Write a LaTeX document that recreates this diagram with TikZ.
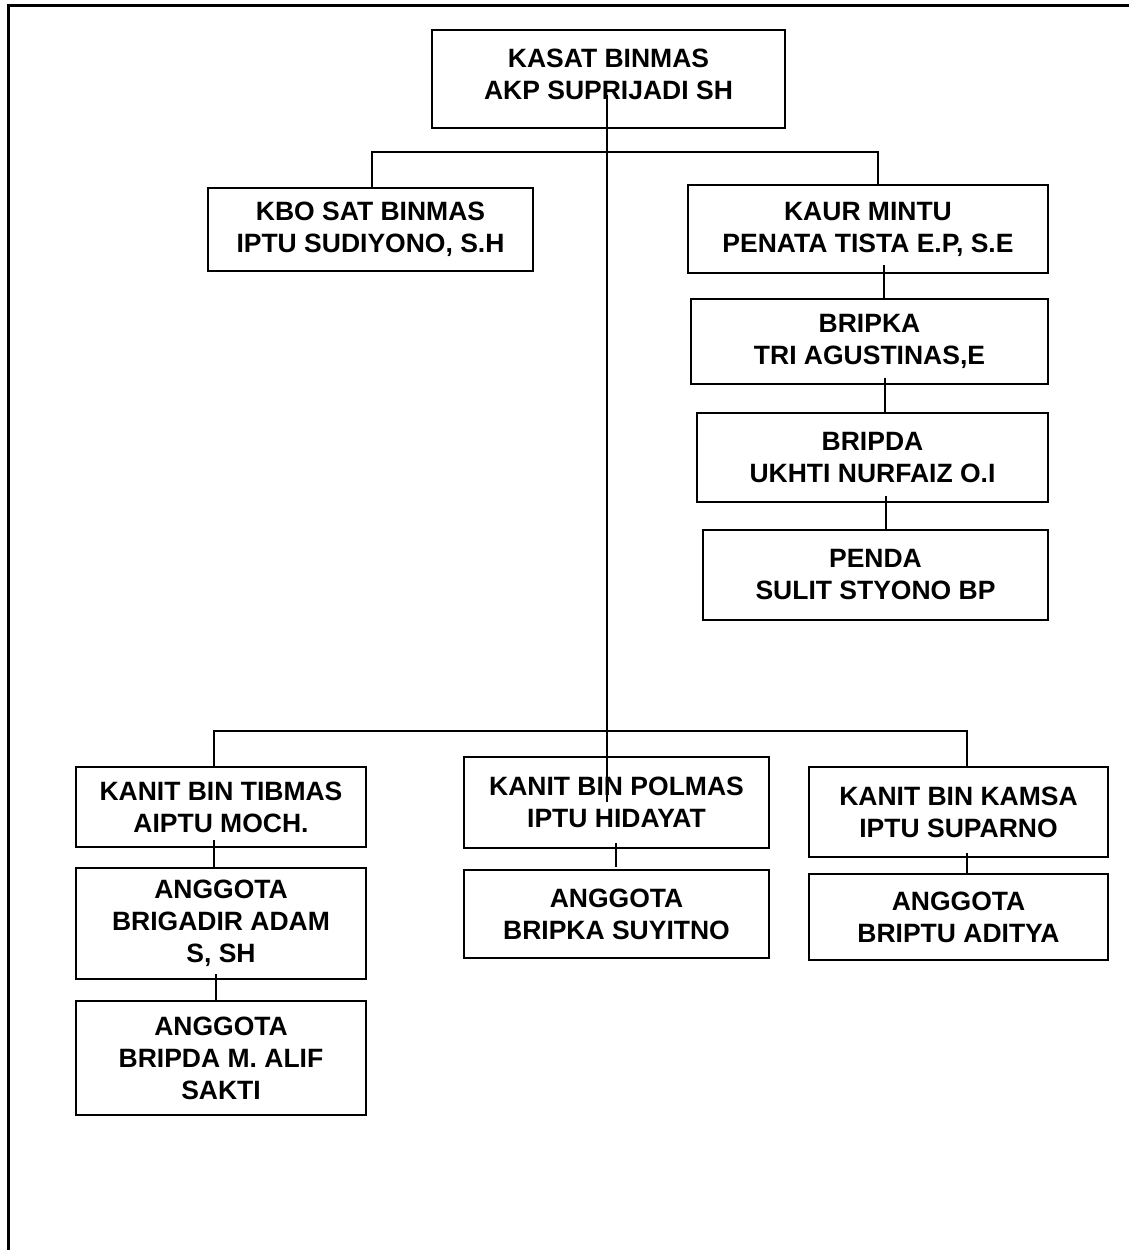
\documentclass[tikz,border=0pt]{standalone}
\usepackage{fontspec}
\setmainfont{Liberation Sans}
\begin{document}
\begin{tikzpicture}[x=1pt,y=-1pt,
  box/.style={draw=black, line width=2pt, rectangle, inner sep=0pt, align=center,
    font=\fontsize{26.5}{32}\selectfont\bfseries},
  conn/.style={draw=black, line width=2pt},
  thin/.style={draw=black, line width=1.5pt},
  frame/.style={draw=black, line width=3pt}]
\useasboundingbox (0,0) rectangle (1129,1250);
% outer frame (left and top edges)
\coordinate (f1) at (8,1250);
\coordinate (f2) at (8,5);
\coordinate (f3) at (1129,5);
\draw[frame] (f1) -- (f2) -- (f3);

% boxes
\node[box, minimum width=353pt, minimum height=98pt] (kasat) at (608.5,79) {KASAT BINMAS\\AKP SUPRIJADI SH\rule[-10pt]{0pt}{10pt}};
\node[box, minimum width=325pt, minimum height=83pt] (kbo) at (370.5,229.5) {KBO SAT BINMAS\\IPTU SUDIYONO, S.H};
\node[box, minimum width=360pt, minimum height=88pt] (kaur) at (868,229) {KAUR MINTU\\PENATA TISTA E.P, S.E};
\node[box, minimum width=357pt, minimum height=85pt] (bripka) at (869.5,341.5) {BRIPKA\\TRI AGUSTINAS,E};
\node[box, minimum width=351pt, minimum height=89pt] (bripda) at (872.5,457.5) {BRIPDA\\UKHTI NURFAIZ O.I};
\node[box, minimum width=345pt, minimum height=90pt] (penda) at (875.5,575) {PENDA\\SULIT STYONO BP};

\node[box, minimum width=290pt, minimum height=80pt] (tibmas) at (221,807) {KANIT BIN TIBMAS\\AIPTU MOCH.};
\node[box, minimum width=290pt, minimum height=111pt] (brig) at (221,923.5) {ANGGOTA\\BRIGADIR ADAM\\S, SH};
\node[box, minimum width=290pt, minimum height=114pt] (alif) at (221,1058) {ANGGOTA\\BRIPDA M. ALIF\\SAKTI};

\node[box, minimum width=305pt, minimum height=91pt] (polmas) at (616.5,802.5) {KANIT BIN POLMAS\\IPTU HIDAYAT};
\node[box, minimum width=305pt, minimum height=88pt] (suyitno) at (616.5,914) {ANGGOTA\\BRIPKA SUYITNO};

\node[box, minimum width=299pt, minimum height=90pt] (kamsa) at (958.5,812) {KANIT BIN KAMSA\\IPTU SUPARNO};
\node[box, minimum width=299pt, minimum height=86pt] (aditya) at (958.5,917) {ANGGOTA\\BRIPTU ADITYA};

% long central line from KASAT to POLMAS
\coordinate (c1) at (607,95);
\coordinate (c2) at (607,802);
\draw[thin] (c1) -- (c2);

% upper branch
\coordinate (t1) at (372,152);
\coordinate (t2) at (878,152);
\draw[conn] (kbo.north -| t1) -- (t1) -- (t2) -- (kaur.north -| t2);

% KAUR column
\coordinate (k1) at (884,265);
\draw[conn] (k1) -- (k1 |- bripka.north);
\coordinate (k2) at (885,378);
\draw[conn] (k2) -- (k2 |- bripda.north);
\coordinate (k3) at (886,496);
\draw[conn] (k3) -- (k3 |- penda.north);

% lower branch
\coordinate (b1) at (214,731);
\coordinate (b2) at (967,731);
\draw[conn] (tibmas.north -| b1) -- (b1) -- (b2) -- (b2 |- kamsa.north);

% lower columns
\coordinate (l1) at (214,840);
\draw[conn] (l1) -- (l1 |- brig.north);
\coordinate (l2) at (216,974);
\draw[conn] (l2) -- (l2 |- alif.north);
\coordinate (m1) at (616,843);
\coordinate (m2) at (616,867);
\draw[conn] (m1) -- (m2);
\coordinate (r1) at (967,853);
\draw[conn] (r1) -- (r1 |- aditya.north);
\end{tikzpicture}
\end{document}
